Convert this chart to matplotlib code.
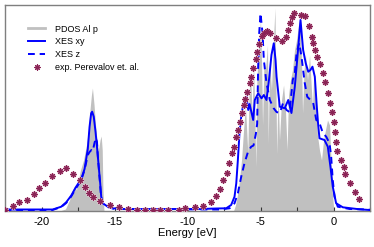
import numpy as np
import matplotlib
matplotlib.use("Agg")
import matplotlib.pyplot as plt
from matplotlib.lines import Line2D

plt.rcParams['font.family'] = ['Liberation Sans', 'DejaVu Sans']

# ---------------- data (energy in eV, intensity in arb. units) ----------------
pdos_E = [-18.77, -18.36, -18.08, -17.88, -17.74, -17.60, -17.50, -17.33, -17.12, -16.92,
          -16.78, -16.68, -16.58, -16.51, -16.40, -16.30, -16.20, -16.10, -15.99, -15.91,
          -15.84, -15.79, -15.72,
          -6.85, -6.71, -6.58, -6.44, -6.30, -6.16, -6.03, -5.87, -5.79, -5.68,
          -5.58, -5.48, -5.39, -5.32, -5.25, -5.14, -5.00, -4.93, -4.86, -4.76,
          -4.66, -4.52, -4.47, -4.38, -4.25, -4.11, -4.01, -3.94, -3.89, -3.80,
          -3.70, -3.56, -3.42, -3.29, -3.18, -3.08, -2.95, -2.81, -2.67, -2.53,
          -2.40, -2.29, -2.19, -2.12, -2.02, -1.92, -1.78, -1.64, -1.51, -1.44,
          -1.34, -1.23, -1.10, -0.96, -0.82, -0.68, -0.55, -0.41, -0.27, -0.17,
          -0.07, 0.03]
pdos_I = [0, 2, 11, 21, 25, 21, 29, 41, 51, 66,
          81, 101, 116, 123, 106, 86, 71, 61, 71, 75,
          61, 21, 0,
          0, 6, 16, 31, 51, 81, 106, 58, 116, 141,
          96, 151, 100, 44, 131, 161, 191, 151, 86, 151,
          141, 166, 67, 151, 121, 171, 203, 120, 57, 121,
          71, 111, 126, 101, 61, 116, 131, 141, 161, 171,
          186, 193, 151, 98, 141, 156, 131, 156, 121, 104,
          141, 111, 76, 61, 51, 71, 81, 91, 86, 51,
          16, 0]

xy_E = [-22.53, -20.48, -19.23, -18.65, -18.31, -17.97, -17.64, -17.28, -17.05, -16.83,
        -16.71, -16.60, -16.53, -16.42, -16.30, -16.18, -16.08, -15.98, -15.91, -15.80,
        -15.46, -15.12, -14.32, -9.18,
        -8.03, -7.35, -7.01, -6.78, -6.66, -6.55, -6.44, -6.32, -6.21, -6.10,
        -5.96, -5.84, -5.75, -5.50, -5.39, -5.16, -4.93, -4.77, -4.59, -4.42,
        -4.25, -4.09, -3.97, -3.90, -3.68, -3.34, -3.10, -2.88, -2.65, -2.47,
        -2.26, -2.08, -1.90, -1.73, -1.58, -1.44, -1.28, -1.16, -1.05, -0.96,
        -0.62, -0.39, -0.21, -0.05, 0.18, 0.64, 1.78, 2.47]
xy_I = [1.5, 1.5, 1.5, 4.3, 8.7, 15.3, 24, 32, 42, 62,
        84, 97.7, 99.3, 94.3, 79.3, 61, 44.3, 27.7, 14.3, 7.7,
        4.3, 2.7, 2, 2,
        2.5, 2.7, 6, 14.3, 27.7, 51, 77.7, 94.3, 104.3, 111,
        114.3, 101, 107, 91, 111, 117.7, 112.7, 116, 111, 131,
        156, 167.7, 151, 134.3, 104.3, 102.7, 111, 98, 124.3, 154.3,
        191, 161, 147.7, 139.3, 141, 144.3, 134.3, 107.7, 86, 72.7,
        71, 64.3, 44.3, 24.3, 7.7, 3.7, 1.7, 1]

z_E = [-22.53, -19.25, -18.65, -18.31, -17.97, -17.62, -17.28, -17.05, -16.83, -16.71,
       -16.58, -16.49, -16.37, -16.28, -16.20, -16.14, -16.03, -15.94, -15.82, -15.48,
       -15.00, -7.81,
       -7.12, -6.78, -6.55, -6.32, -6.10, -5.86, -5.64, -5.48, -5.32, -5.23,
       -5.16, -5.09, -5.00, -4.86, -4.77, -4.59, -4.36, -4.11, -3.90, -3.68,
       -3.45, -3.22, -3.01, -2.79, -2.65, -2.53, -2.35, -2.19, -1.97, -1.80,
       -1.58, -1.39, -1.18, -0.96, -0.73, -0.50, -0.27, -0.16, -0.05, 0.07,
       0.29, 1.10, 2.47]
z_I = [1, 1, 4, 8, 14.5, 23, 31, 41, 56, 59,
       61, 60, 68, 73, 69, 54.3, 34.3, 17.7, 8, 4,
       2, 1.5,
       2.7, 7.7, 17.7, 34.3, 47.7, 59, 64.3, 65.5, 77, 87,
       144.3, 177.7, 197.7, 177.7, 151, 128, 111, 103, 99, 98,
       108, 101, 99, 131, 138, 158, 168, 154, 128, 114.3,
       111, 108, 91, 88, 78, 74.3, 67.7, 54.3, 31, 14.3,
       4.3, 2, 1.5]

exp_E = [-22.47, -21.97, -21.51, -21.01, -20.48, -20.14, -19.75, -19.29, -18.70, -18.31,
         -17.81, -17.35, -17.01, -16.76, -16.49, -15.98, -15.34, -14.71, -14.09, -13.49,
         -12.90, -12.38, -11.87, -11.35, -10.60, -10.14, -9.47, -8.95, -8.42, -8.03,
         -7.76, -7.58, -7.31, -7.17, -6.94, -6.83, -6.66, -6.51, -6.39, -6.28,
         -6.16, -6.08, -5.91, -5.75, -5.62, -5.48, -5.34, -5.21, -5.09, -4.93,
         -4.79, -4.55, -4.32, -3.95, -3.56, -3.22, -3.10, -2.99, -2.81, -2.69,
         -2.24, -1.97, -1.69, -1.49, -1.39, -1.28, -1.12, -0.94, -0.71, -0.60,
         -0.36, -0.21, -0.12, 0.00, 0.09, 0.16, 0.25, 0.48, 0.73, 0.82,
         1.10, 1.49, 1.73]
exp_I = [1, 4.7, 9, 11.3, 17, 23, 28, 34.7, 40.3, 42.7,
         37, 31, 24.3, 18, 13.7, 9.7, 6.3, 3.7, 1.7, 1.3,
         1.3, 1, 1, 1, 1.3, 2.7, 3.7, 5, 9.3, 15,
         21.7, 31, 38.3, 47.7, 57.7, 64.3, 73.7, 81, 89.3, 97.7,
         106, 111.7, 119.3, 127.7, 134.3, 142.7, 151.7, 159.3, 167, 175,
         178.3, 180, 178.3, 172.7, 170.3, 174.3, 181, 188.3, 194.3, 197.7,
         196, 195.3, 185, 174.3, 167.7, 161, 153.7, 147, 138.3, 129.3,
         118.3, 108, 99.3, 89.3, 79.3, 69.3, 60.3, 51, 43.7, 37,
         28.3, 19.3, 11.7]

xticks_major = [-20, -15, -10, -5, 0]
xlabel = "Energy [eV]"
labels = ["PDOS Al p", "XES xy", "XES z", "exp. Perevalov et. al."]

# ---------------- plot ----------------
fig = plt.figure(figsize=(3.74, 2.47), dpi=100)
ax = fig.add_axes([5/374, 36/247, 365/374, 206/247])

gray = '#c0c0c0'
blue = '#0000ff'
maroon = '#8b2456'
dash = (0, (3.5, 2.5))

ax.fill_between(pdos_E, 0, pdos_I, color=gray, lw=0, zorder=1)
ax.plot(xy_E, xy_I, color=blue, lw=1.4, zorder=3)
ax.plot(z_E, z_I, color=blue, lw=1.4, ls=dash, zorder=3)
ax.plot(exp_E, exp_I, ls='none', marker='o', ms=5.0, color='#ecd0dc', mec='none', zorder=4)
ax.plot(exp_E, exp_I, ls='none', marker=(8, 2, 0), ms=4.4, color=maroon, mew=0.8, zorder=5)

ax.set_xlim(-22.5, 2.5)
ax.set_ylim(0, 206)
ax.set_xticks(xticks_major)
ax.set_xticklabels([str(t) for t in xticks_major])
ax.set_xticks(np.arange(-22.5, 2.6, 2.5), minor=True)
ax.tick_params(axis='x', which='both', direction='in', length=3, width=0.8,
               labelsize=8, pad=4, color='#333333')
ax.set_yticks([])
ax.set_xlabel(xlabel, fontsize=8, labelpad=1)
for s in ax.spines.values():
    s.set_color('#7f7f7f')
    s.set_linewidth(1.0)

handles = [Line2D([], [], color=gray, lw=2),
           Line2D([], [], color=blue, lw=1.4),
           Line2D([], [], color=blue, lw=1.4, ls=dash),
           Line2D([], [], ls='none', marker=(8, 2, 0), ms=4.4, color=maroon, mew=0.8)]
ax.legend(handles, labels, loc='upper left', bbox_to_anchor=(0.063, 0.905),
          frameon=False, fontsize=6.5, handlelength=1.9, handletextpad=1.1,
          labelspacing=0.42, borderpad=0, borderaxespad=0)

fig.savefig("out.png", dpi=100)
